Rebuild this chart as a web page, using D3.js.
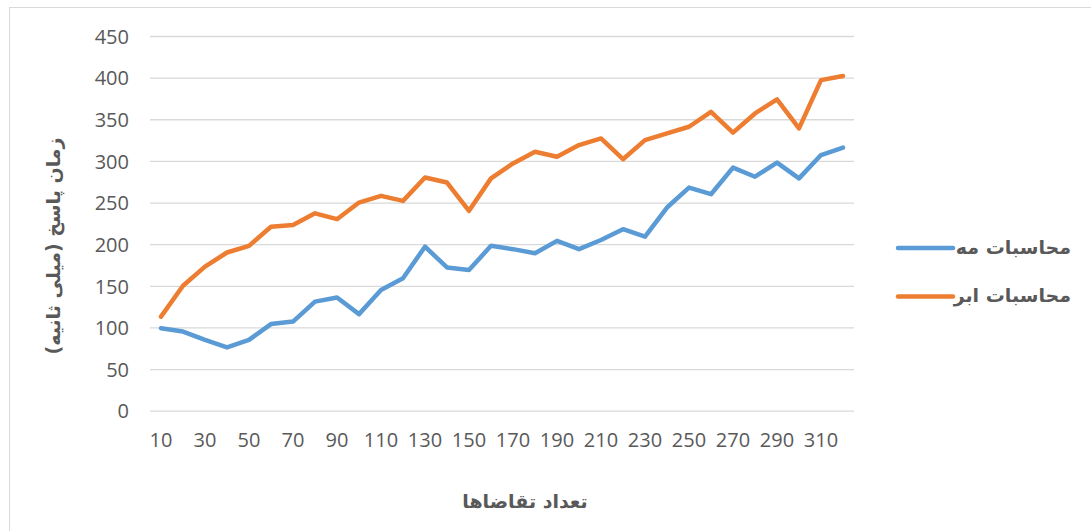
<!DOCTYPE html>
<html>
<head>
<meta charset="utf-8">
<script src="https://cdn.jsdelivr.net/npm/d3@7"></script>
<style>
    body { margin: 0; background: #fff; }
    svg { display: block; }
    .tick-label { font-family: "Open Sans", sans-serif; font-size: 20px; fill: #595959; }
    .fa { font-family: "DejaVu Sans", sans-serif; font-weight: bold; fill: #595959; }
</style>
</head>
<body>
<svg id="chart" width="1091" height="531"></svg>
<script>
//=================== DATA ====================================
var requests = [10, 20, 30, 40, 50, 60, 70, 80, 90, 100, 110, 120, 130, 140, 150, 160,
    170, 180, 190, 200, 210, 220, 230, 240, 250, 260, 270, 280, 290, 300, 310, 320];

// محاسبات مه (fog)
var fogValues = [99, 95, 85, 76, 85, 104, 107, 131, 136, 116, 145, 159, 197, 172, 169, 198,
    194, 189, 204, 194, 205, 218, 209, 244, 268, 260, 292, 281, 298, 279, 307, 316];

// محاسبات ابر (cloud)
var cloudValues = [113, 150, 173, 190, 198, 221, 223, 237, 230, 250, 258, 252, 280, 274, 240, 279,
    297, 311, 305, 319, 327, 302, 325, 333, 341, 359, 334, 357, 374, 339, 397, 402];

var yTicks = [0, 50, 100, 150, 200, 250, 300, 350, 400, 450];
var xTickLabels = [10, 30, 50, 70, 90, 110, 130, 150, 170, 190, 210, 230, 250, 270, 290, 310];

var seriesNames = ["محاسبات مه", "محاسبات ابر"];
var seriesColors = ["#5B9BD5", "#ED7D31"];

//=================== SETUP ====================================
var svg = d3.select("#chart");

var plotLeft = 150, plotRight = 854,
    plotTop = 36, plotBottom = 410.7;

// chart frame
svg.append("rect")
    .attr("x", 9.5)
    .attr("y", 7.5)
    .attr("width", 1100)
    .attr("height", 540)
    .attr("fill", "none")
    .attr("stroke", "#D9D9D9")
    .attr("stroke-width", 1);

var x = d3.scaleBand()
    .domain(requests)
    .range([plotLeft, plotRight])
    .padding(0);

var y = d3.scaleLinear()
    .domain([0, 450])
    .range([plotBottom, plotTop]);

function xc(d) { return x(d) + x.bandwidth() / 2; }

//=================== GRID + AXES ====================================
var yAxis = d3.axisLeft(y)
    .tickValues(yTicks)
    .tickSize(-(plotRight - plotLeft))
    .tickPadding(21);

var yAxisG = svg.append("g")
    .attr("transform", "translate(" + plotLeft + ",0)")
    .call(yAxis);

yAxisG.select(".domain").remove();
yAxisG.selectAll(".tick line")
    .attr("stroke", "#D9D9D9")
    .attr("stroke-width", 1.3);
yAxisG.selectAll(".tick text")
    .attr("class", "tick-label")
    .attr("dy", "0.36em");

var xAxis = d3.axisBottom(x)
    .tickValues(xTickLabels)
    .tickSize(0)
    .tickPadding(22);

var xAxisG = svg.append("g")
    .attr("transform", "translate(0," + plotBottom + ")")
    .call(xAxis);

xAxisG.select(".domain").remove();
xAxisG.selectAll(".tick text")
    .attr("class", "tick-label");

//=================== LINES ====================================
var lineGen = d3.line()
    .x(function (d, i) { return xc(requests[i]); })
    .y(function (d) { return y(d); });

svg.selectAll("path.series")
    .data([fogValues, cloudValues])
    .enter()
    .append("path")
    .classed("series", true)
    .attr("d", lineGen)
    .attr("fill", "none")
    .attr("stroke", function (d, i) { return seriesColors[i]; })
    .attr("stroke-width", 4.5)
    .attr("stroke-linejoin", "round")
    .attr("stroke-linecap", "round");

//=================== LEGEND ====================================
var legend = svg.selectAll("g.legend")
    .data(seriesNames)
    .enter()
    .append("g")
    .classed("legend", true)
    .attr("transform", function (d, i) { return "translate(898," + (248 + i * 48.5) + ")"; });

legend.append("line")
    .attr("x1", 0)
    .attr("x2", 55)
    .attr("stroke", function (d, i) { return seriesColors[i]; })
    .attr("stroke-width", 4.5)
    .attr("stroke-linecap", "round");

legend.append("text")
    .attr("class", "fa")
    .attr("x", 173)
    .attr("y", 0)
    .attr("dy", "0.3em")
    .attr("text-anchor", "end")
    .style("font-size", "19px")
    .text(function (d) { return d; });

//=================== AXIS TITLES ====================================
svg.append("text")
    .attr("class", "fa")
    .attr("x", 525)
    .attr("y", 502)
    .attr("dy", "0.3em")
    .attr("text-anchor", "middle")
    .attr("direction", "rtl")
    .style("font-size", "19px")
    .text("تعداد تقاضاها");

svg.append("text")
    .attr("class", "fa")
    .attr("transform", "translate(54,246) rotate(-90)")
    .attr("dy", "0.3em")
    .attr("text-anchor", "middle")
    .attr("direction", "rtl")
    .style("font-size", "19px")
    .text("زمان پاسخ (میلی ثانیه)");
</script>
</body>
</html>
